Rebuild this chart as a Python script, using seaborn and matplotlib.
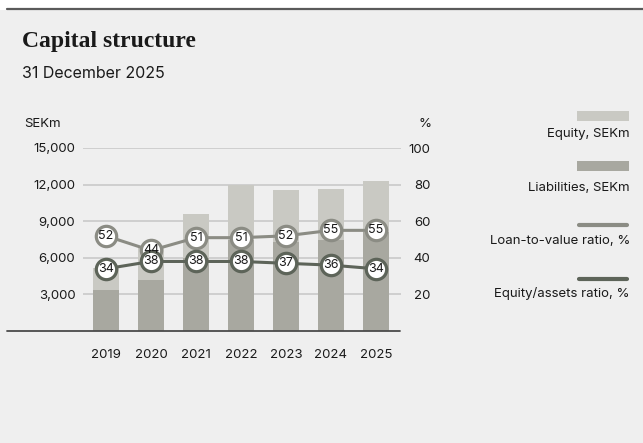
import matplotlib
matplotlib.use("Agg")
import matplotlib.pyplot as plt
from matplotlib.lines import Line2D
from matplotlib.patches import Rectangle
import seaborn as sns
import pandas as pd

# Capital structure data, SEKm and %
years = ["2019", "2020", "2021", "2022", "2023", "2024", "2025"]
liabilities = [3400, 4200, 5970, 7430, 7280, 7480, 8130]
equity = [1750, 2650, 3650, 4560, 4290, 4180, 4180]
ltv_ratio = [52, 44, 51, 51, 52, 55, 55]
equity_assets_ratio = [34, 38, 38, 38, 37, 36, 34]
left_ticks = [3000, 6000, 9000, 12000, 15000]
right_ticks = [20, 40, 60, 80, 100]

BG = "#efefef"
C_EQUITY = "#c9c9c3"
C_LIAB = "#a8a8a0"
C_LTV = "#8b8c84"
C_EQA = "#5d6459"
C_GRID = "#c9c9c9"
C_TEXT = "#1a1a1a"

sns.set_theme(style="white")
plt.rcParams["font.family"] = ["Inter", "DejaVu Sans"]

W, H = 643, 443
fig = plt.figure(figsize=(W / 100, H / 100), dpi=100)
fig.patch.set_facecolor("white")

# light panel below the top rule
fig.add_artist(Rectangle((0, 0), 1, 1 - 10 / H, transform=fig.transFigure,
                         facecolor=BG, edgecolor="none", zorder=-10))
fig.add_artist(Line2D([7 / W, 1], [1 - 9 / H, 1 - 9 / H], transform=fig.transFigure,
                      color="#5a5a5a", lw=1.6))

fig.text(22 / W, 1 - 42 / H, "Capital structure", family=["Liberation Serif"],
         fontweight="bold", fontsize=17, color=C_TEXT, va="center", ha="left")
fig.text(22 / W, 1 - 73 / H, "31 December 2025", fontsize=11.5, color=C_TEXT,
         va="center", ha="left")

left, right = 83 / W, 401 / W
bottom, top = 1 - 331 / H, 1 - 148 / H
ax = fig.add_axes([left, bottom, right - left, top - bottom])
ax.set_facecolor("none")

df = pd.DataFrame({"year": years, "liab": liabilities,
                   "total": [l + e for l, e in zip(liabilities, equity)]})

# stacked bars: total (equity on top) drawn first, liabilities over it
sns.barplot(data=df, x="year", y="total", color=C_EQUITY, width=0.58,
            saturation=1, linewidth=0, ax=ax, zorder=2)
sns.barplot(data=df, x="year", y="liab", color=C_LIAB, width=0.58,
            saturation=1, linewidth=0, ax=ax, zorder=3)

ax.set_xlim(-0.51, 6.56)
ax.set_ylim(0, 15000)
ax.set_yticks(left_ticks)
ax.set_yticklabels([f"{v:,}" for v in left_ticks])
ax.set_xlabel("")
ax.set_ylabel("")
for s in ax.spines.values():
    s.set_visible(False)
ax.yaxis.grid(True, color=C_GRID, lw=1.2, zorder=0)
ax.set_axisbelow(True)
ax.tick_params(axis="y", length=0, pad=5.5, labelsize=9.5, labelcolor=C_TEXT)
ax.tick_params(axis="x", length=0, pad=13, labelsize=9.5, labelcolor=C_TEXT)

# ratio lines on the secondary axis
ax2 = ax.twinx()
ax2.set_ylim(0, 100)
ax2.set_yticks(right_ticks)
for s in ax2.spines.values():
    s.set_visible(False)
ax2.tick_params(axis="y", length=0, pad=21, labelsize=9.5, labelcolor=C_TEXT)
for lbl in ax2.get_yticklabels():
    lbl.set_ha("right")
ax2.grid(False)

xs = list(range(len(years)))
for vals, col in [(ltv_ratio, C_LTV), (equity_assets_ratio, C_EQA)]:
    sns.lineplot(x=xs, y=vals, color=col, lw=2.2, ax=ax2, zorder=4)
    ax2.scatter(xs, vals, s=215, facecolor="white", edgecolor=col,
                linewidth=2.3, zorder=5)
    for x, v in zip(xs, vals):
        ax2.text(x, v, str(v), ha="center", va="center", fontsize=9,
                 color=C_TEXT, zorder=6)
ax2.set_xlim(-0.51, 6.56)

# axis unit labels
fig.text(24 / W, 1 - 124 / H, "SEKm", fontsize=9.5, color=C_TEXT, va="center", ha="left")
fig.text(432 / W, 1 - 124 / H, "%", fontsize=9.5, color=C_TEXT, va="center", ha="right")

# baseline
fig.add_artist(Line2D([7 / W, 400 / W], [bottom, bottom], transform=fig.transFigure,
                      color="#4a4a4a", lw=1.3, zorder=10))

# legend
lx0, lx1 = 577 / W, 629 / W
fig.add_artist(Rectangle((lx0, 1 - 121 / H), lx1 - lx0, 10 / H, transform=fig.transFigure,
                         facecolor=C_EQUITY, edgecolor="none"))
fig.text(630 / W, 1 - 134 / H, "Equity, SEKm", fontsize=9.5, color=C_TEXT, va="center", ha="right")
fig.add_artist(Rectangle((lx0, 1 - 171 / H), lx1 - lx0, 10 / H, transform=fig.transFigure,
                         facecolor=C_LIAB, edgecolor="none"))
fig.text(630 / W, 1 - 188 / H, "Liabilities, SEKm", fontsize=9.5, color=C_TEXT, va="center", ha="right")
fig.add_artist(Line2D([lx0 + 2 / W, lx1 - 2 / W], [1 - 225 / H] * 2, transform=fig.transFigure,
                      color=C_LTV, lw=3, solid_capstyle="round"))
fig.text(630 / W, 1 - 241 / H, "Loan-to-value ratio, %", fontsize=9.5, color=C_TEXT, va="center", ha="right")
fig.add_artist(Line2D([lx0 + 2 / W, lx1 - 2 / W], [1 - 279 / H] * 2, transform=fig.transFigure,
                      color=C_EQA, lw=3, solid_capstyle="round"))
fig.text(630 / W, 1 - 294 / H, "Equity/assets ratio, %", fontsize=9.5, color=C_TEXT, va="center", ha="right")

fig.savefig("out.png", dpi=100, facecolor=fig.get_facecolor())
